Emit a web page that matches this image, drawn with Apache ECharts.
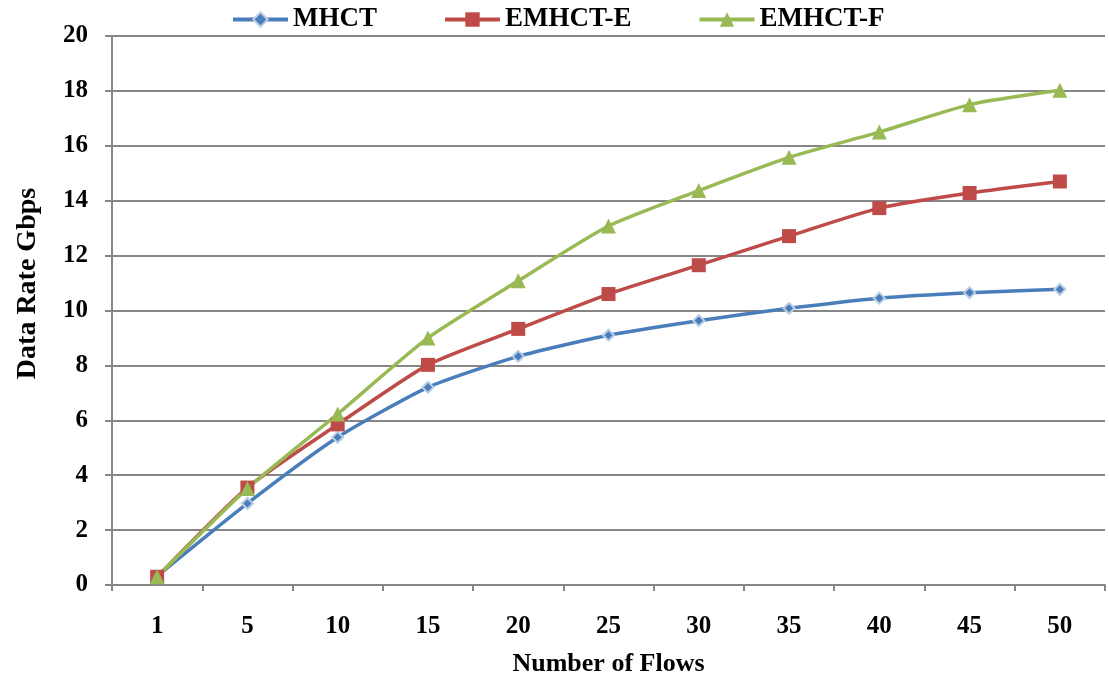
<!DOCTYPE html>
<html><head><meta charset="utf-8">
<script src="https://cdn.jsdelivr.net/npm/echarts@6/dist/echarts.min.js"></script>
<style>html,body{margin:0;padding:0;background:#fff}#c{width:1109px;height:677px}</style>
</head><body><div id="c"></div>
<script>
const categories = ['1','5','10','15','20','25','30','35','40','45','50'];
const mhct   = [0.32, 2.97, 5.38, 7.2, 8.33, 9.1, 9.63, 10.08, 10.45, 10.65, 10.77];
const emhctE = [0.3, 3.55, 5.85, 8.02, 9.33, 10.6, 11.65, 12.71, 13.73, 14.28, 14.7];
const emhctF = [0.3, 3.52, 6.23, 9.0, 11.08, 13.08, 14.37, 15.58, 16.5, 17.5, 18.02];
const yTicks = {min: 0, max: 20, interval: 2};

const font = 'Liberation Serif';
const chart = echarts.init(document.getElementById('c'));
chart.setOption({
  backgroundColor: '#fff',
  animation: false,
  legend: {
    top: 1, left: 226, itemWidth: 55, itemHeight: 18, itemGap: 66,
    textStyle: {fontFamily: font, fontWeight: 'bold', fontSize: 27, color: '#000'},
    lineStyle: {width: 4},
    data: ['MHCT','EMHCT-E','EMHCT-F']
  },
  grid: {left: 112, right: 4, top: 36, bottom: 92, outerBoundsMode: 'none', containLabel: false},
  xAxis: {
    type: 'category', data: categories, boundaryGap: true,
    name: 'Number of Flows', nameLocation: 'middle', nameGap: 66,
    nameTextStyle: {fontFamily: font, fontWeight: 'bold', fontSize: 26, color: '#000'},
    axisLine: {lineStyle: {color: '#868686', width: 2}},
    axisTick: {show: true, length: 6, lineStyle: {color: '#868686', width: 2}},
    axisLabel: {fontFamily: font, fontWeight: 'bold', fontSize: 25, color: '#000', margin: 29},
    splitLine: {show: false}
  },
  yAxis: {
    type: 'value', min: yTicks.min, max: yTicks.max, interval: yTicks.interval,
    name: 'Data Rate Gbps', nameLocation: 'middle', nameGap: 70, nameRotate: 90,
    nameTextStyle: {fontFamily: font, fontWeight: 'bold', fontSize: 28, color: '#000', padding: [0, 0, 0, 54]},
    axisLine: {show: true, lineStyle: {color: '#868686', width: 2}},
    axisTick: {show: true, length: 7, inside: false, lineStyle: {color: '#868686', width: 2}},
    axisLabel: {fontFamily: font, fontWeight: 'bold', fontSize: 25, color: '#000', margin: 24},
    splitLine: {show: true, lineStyle: {color: '#868686', width: 2}}
  },
  series: [
    {name: 'MHCT', type: 'line', data: mhct, smooth: 0.2,
     symbol: 'diamond', symbolSize: 11,
     lineStyle: {color: '#4A7EBB', width: 3.5},
     itemStyle: {color: '#4A7EBB', borderColor: '#B9CDE5', borderWidth: 2}},
    {name: 'EMHCT-E', type: 'line', data: emhctE, smooth: 0.2,
     symbol: 'rect', symbolSize: 14,
     lineStyle: {color: '#BE4B48', width: 3.5},
     itemStyle: {color: '#BE4B48', borderColor: '#BE4B48', borderWidth: 0}},
    {name: 'EMHCT-F', type: 'line', data: emhctF, smooth: 0.2,
     symbol: 'triangle', symbolSize: 15,
     lineStyle: {color: '#98B954', width: 3.5},
     itemStyle: {color: '#98B954', borderColor: '#98B954', borderWidth: 0}}
  ]
});
</script></body></html>
